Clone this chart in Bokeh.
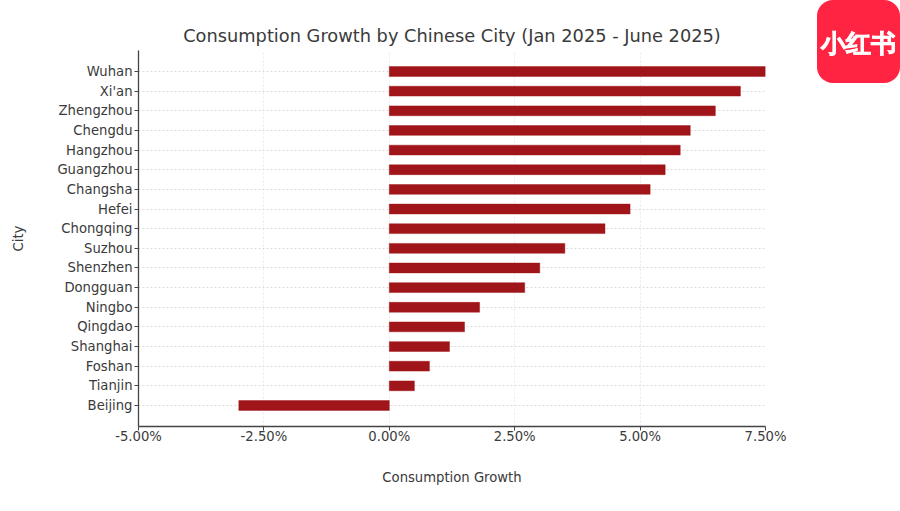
from bokeh.plotting import figure
from bokeh.embed import file_html
from bokeh.resources import INLINE
from bokeh.layouts import column
from bokeh.models import ColumnDataSource, FixedTicker, CustomJSTickFormatter, Div
from bokeh.models import Title

cities = ["Beijing", "Tianjin", "Foshan", "Shanghai", "Qingdao", "Ningbo", "Dongguan", "Shenzhen", "Suzhou",
          "Chongqing", "Hefei", "Changsha", "Guangzhou", "Hangzhou", "Chengdu", "Zhengzhou", "Xi'an", "Wuhan"]
growth = [-3.0, 0.5, 0.8, 1.2, 1.5, 1.8, 2.7, 3.0, 3.5, 4.3, 4.8, 5.2, 5.5, 5.8, 6.0, 6.5, 7.0, 7.5]
x_ticks = [-5.0, -2.5, 0.0, 2.5, 5.0, 7.5]
title_text = "Consumption Growth by Chinese City (Jan 2025 - June 2025)"
x_label = "Consumption Growth"
y_label = "City"
logo_text = "小红书"

ypos = list(range(len(cities)))
src = ColumnDataSource(dict(y=ypos, left=[min(v, 0) for v in growth], right=[max(v, 0) for v in growth]))

p = figure(width=900, height=511, output_backend="svg", toolbar_location=None,
           x_range=(-5, 7.5), y_range=(-1.07, 18.07),
           min_border_left=138, min_border_right=135, min_border_top=50, min_border_bottom=85)
p.background_fill_color = "white"
p.border_fill_color = "white"
p.outline_line_color = None

p.hbar(y="y", left="left", right="right", height=0.5, source=src,
       fill_color="#a01519", line_color="#a01519", line_alpha=0.45, line_width=1)

TXT = "#3a3a3a"
FONT = "DejaVu Sans"
for ax in (p.xaxis[0], p.yaxis[0]):
    ax.axis_line_color = "#444444"
    ax.axis_line_width = 1.3
    ax.major_tick_line_color = "#444444"
    ax.major_tick_line_width = 1
    ax.major_tick_out = 4
    ax.major_tick_in = 0
    ax.minor_tick_line_color = None
    ax.major_label_text_color = TXT
    ax.major_label_text_font = FONT
    ax.major_label_text_font_size = "13.2px"
    ax.axis_label_text_color = TXT
    ax.axis_label_text_font = FONT
    ax.axis_label_text_font_size = "13.2px"
    ax.axis_label_text_font_style = "normal"

p.xaxis[0].ticker = FixedTicker(ticks=x_ticks)
p.xaxis[0].formatter = CustomJSTickFormatter(code="return tick.toFixed(2) + '%';")
p.xaxis[0].axis_label = x_label
p.xaxis[0].axis_label_standoff = 23
p.xaxis[0].major_label_standoff = -2
p.yaxis[0].ticker = FixedTicker(ticks=ypos)
p.yaxis[0].major_label_overrides = {i: c for i, c in zip(ypos, cities)}
p.yaxis[0].axis_label = y_label
p.yaxis[0].axis_label_standoff = 28
p.yaxis[0].major_label_standoff = 2

p.xgrid.grid_line_color = "#e4e4e4"
p.xgrid.grid_line_dash = "2 2"
p.xgrid.grid_line_width = 0.8
p.ygrid.grid_line_color = "#d2d2d2"
p.ygrid.grid_line_dash = "2 2"
p.ygrid.grid_line_width = 0.8

p.title = Title(text=title_text, align="center", text_font=FONT, text_font_size="17.8px",
                text_font_style="normal", text_color=TXT, standoff=9)

logo = Div(text=logo_text, width=83, height=83, margin=0,
           stylesheets=[":host{position:fixed !important;left:817px !important;top:0 !important;"
                        "width:83px;height:83px;background:#ff2442;border-radius:16px;color:#fff;"
                        "font:bold 24.5px 'Noto Sans CJK SC';-webkit-text-stroke:0.7px #fff;"
                        "line-height:87px;text-align:center;z-index:10;}"])

layout = column(p, logo)
open("out.html", "w").write(file_html(layout, INLINE))
